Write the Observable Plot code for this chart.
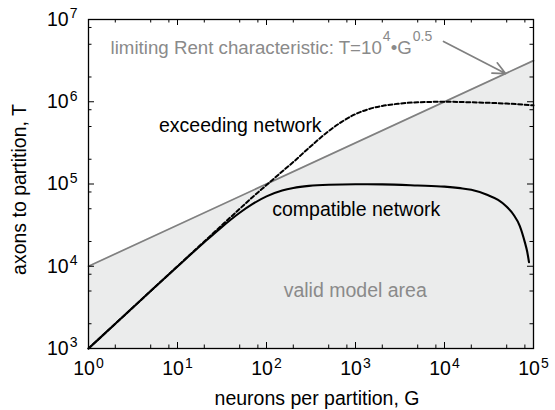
<!DOCTYPE html>
<html><head><meta charset="utf-8">
<script src="https://cdn.jsdelivr.net/npm/d3@7"></script>
<script src="https://cdn.jsdelivr.net/npm/@observablehq/plot@0.6"></script>
<style>html,body{margin:0;padding:0;background:#fff;} svg{display:block;}</style>
</head><body><div id="chart"></div>
<script>
// ---- data ----
const compatibleG = [1,2,5,10,20,30,50,70,100,150,200,300,500,1000,2000,5000,10000,15000,20000,30000,40000,50000,60000,70000,80000,85000,89000];
const compatibleT = [1000,2000,5000,9950,19600,28700,44700,57300,70700,83200,89400,94900,98000,99300,99000,96000,93000,89000,85000,74000,64000,53000,42000,31000,19500,15000,11200];

const exceedingG = [1,2,5,10,20,30,50,70,100,150,200,300,500,700,1000,1500,2000,3000,5000,10000,20000,50000,100000];
const exceedingT = [1000,2000,5000,10000,20000,30000,49900,69500,97000,142000,185000,275000,440000,570000,707000,830000,890000,945000,985000,1000000,985000,950000,905000];

const rentG = [1, 100000];
const rentT = [10000, 3162278];

const xMajor = [1,10,100,1000,10000,100000];
const yMajor = [1000,10000,100000,1000000,10000000];
const xMinor = [2,5,8,20,50,80,200,500,800,2000,5000,8000,20000,50000,80000];
const yMinor = [2000,5000,8000,20000,50000,80000,200000,500000,800000,2000000,5000000,8000000];
const xTickLabels = ["10^{0}","10^{1}","10^{2}","10^{3}","10^{4}","10^{5}"];
const yTickLabels = ["10^{3}","10^{4}","10^{5}","10^{6}","10^{7}"];

const labels = [
  {G: 1.77, T: 3.86e6, text: "limiting Rent characteristic: T=10^{4}\u2022G^{0.5}", color: "#8a8a8a", size: 18.7},
  {G: 6.2, T: 4.27e5, text: "exceeding network", color: "#000", size: 19.5},
  {G: 116, T: 4.14e4, text: "compatible network", color: "#000", size: 19.5},
  {G: 156, T: 4.2e3, text: "valid model area", color: "#8a8a8a", size: 19.5}
];
const arrowData = [{G1: 9750, T1: 5.4e6, G2: 48500, T2: 2.2e6}];

// ---- tables ----
const compatible = compatibleG.map((g,i)=>({G:g, T:compatibleT[i]}));
const exceeding = exceedingG.map((g,i)=>({G:g, T:exceedingT[i]}));
const rent = rentG.map((g,i)=>({G:g, T:rentT[i]}));

const W=555, H=410, mL=88, mR=22, mT=19, mB=62;
const innerW = W-mL-mR, innerH = H-mT-mB;
const majorLen = 6, minorLen = 3.5;
const font = "'Liberation Sans', Arial, Helvetica, sans-serif";
const fs = 19.5;

const chart = Plot.plot({
  width: W, height: H,
  marginLeft: mL, marginRight: mR, marginTop: mT, marginBottom: mB,
  x: {type: "log", domain: [1, 1e5], axis: null},
  y: {type: "log", domain: [1e3, 1e7], axis: null},
  style: {fontFamily: font, fontSize: fs + "px", background: "white", overflow: "visible"},
  marks: [
    Plot.areaY(rent, {x: "G", y1: () => 1e3, y2: "T", fill: "#ebecec"}),
    Plot.line(rent, {x: "G", y: "T", stroke: "#808080", strokeWidth: 1.7}),
    Plot.line(exceeding, {x: "G", y: "T", stroke: "#000", strokeWidth: 2, strokeDasharray: "4,2.5", curve: "monotone-x"}),
    Plot.line(compatible, {x: "G", y: "T", stroke: "#000", strokeWidth: 2.1, curve: "monotone-x"}),
    Plot.arrow(arrowData, {x1: "G1", y1: "T1", x2: "G2", y2: "T2", stroke: "#808080", strokeWidth: 1.7, headLength: 12, headAngle: 50}),
    // ticks (inward, all four sides)
    Plot.tickX(xMajor, {x: d=>d, insetTop: innerH - majorLen, stroke: "#000"}),
    Plot.tickX(xMajor, {x: d=>d, insetBottom: innerH - majorLen, stroke: "#000"}),
    Plot.tickX(xMinor, {x: d=>d, insetTop: innerH - minorLen, stroke: "#000"}),
    Plot.tickX(xMinor, {x: d=>d, insetBottom: innerH - minorLen, stroke: "#000"}),
    Plot.tickY(yMajor, {y: d=>d, insetRight: innerW - majorLen, stroke: "#000"}),
    Plot.tickY(yMajor, {y: d=>d, insetLeft: innerW - majorLen, stroke: "#000"}),
    Plot.tickY(yMinor, {y: d=>d, insetRight: innerW - minorLen, stroke: "#000"}),
    Plot.tickY(yMinor, {y: d=>d, insetLeft: innerW - minorLen, stroke: "#000"}),
    Plot.frame({stroke: "#000", strokeWidth: 1.3}),
    // tick labels
    Plot.text(xMajor, {x: d=>d, text: (d,i)=>xTickLabels[i], frameAnchor: "bottom", textAnchor: "middle", lineAnchor: "top", dy: 13, fill: "#000"}),
    Plot.text(yMajor, {y: d=>d, text: (d,i)=>yTickLabels[i], frameAnchor: "left", textAnchor: "end", lineAnchor: "middle", dx: -11, fill: "#000"}),
    // axis titles
    Plot.text(["neurons per partition, G"], {frameAnchor: "bottom", text: d=>d, textAnchor: "middle", lineAnchor: "bottom", dy: 56, dx: 6, fill: "#000"}),
    Plot.text(["axons to partition, T"], {frameAnchor: "left", text: d=>d, rotate: -90, textAnchor: "middle", lineAnchor: "bottom", dx: -63, dy: 5.5, fill: "#000"}),
    // annotations
    Plot.text(labels, {x: "G", y: "T", text: "text", fill: "color", fontSize: d=>d.size, textAnchor: "start", lineAnchor: "bottom"})
  ]
});

// superscripts as real tspans
const NS = "http://www.w3.org/2000/svg";
chart.querySelectorAll("text").forEach(el => {
  const s = el.textContent;
  if (!s.includes("^{")) return;
  const isTick = /^10\^\{\d\}$/.test(s);
  const shift = isTick ? 7.5 : 12.5;
  const supSize = 14;
  el.textContent = "";
  const re = /\^\{([^}]*)\}/g;
  let last = 0, m, raised = false;
  const addPlain = (str) => {
    const t = document.createElementNS(NS, "tspan");
    t.textContent = str;
    if (raised) { t.setAttribute("dy", shift); raised = false; }
    el.appendChild(t);
  };
  while ((m = re.exec(s))) {
    if (m.index > last) addPlain(s.slice(last, m.index));
    const sup = document.createElementNS(NS, "tspan");
    sup.textContent = m[1];
    sup.setAttribute("dy", -shift);
    sup.setAttribute("dx", 1);
    sup.setAttribute("font-size", supSize);
    el.appendChild(sup);
    raised = true;
    last = re.lastIndex;
  }
  if (last < s.length) addPlain(s.slice(last));
});

document.getElementById("chart").appendChild(chart);
</script>
</body></html>
